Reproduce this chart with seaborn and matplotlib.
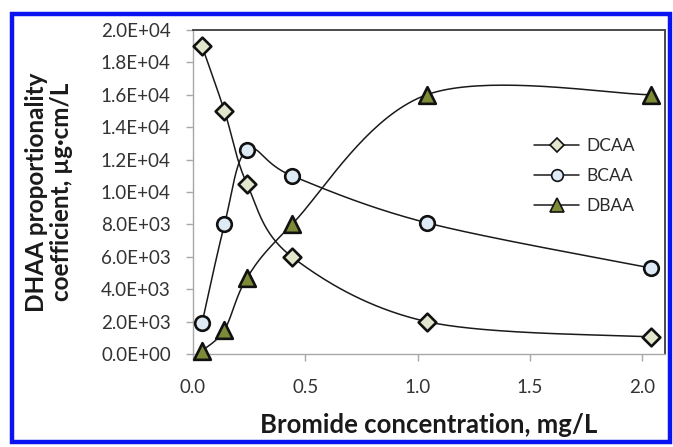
import numpy as np
import pandas as pd
import matplotlib
matplotlib.use("Agg")
import matplotlib.pyplot as plt
import seaborn as sns
from matplotlib.lines import Line2D
from matplotlib.patches import Rectangle

# ---- data ----
bromide = [0.04, 0.14, 0.24, 0.44, 1.04, 2.04]
dcaa = [19000, 15000, 10500, 6000, 2000, 1050]
bcaa = [1900, 8000, 12600, 11000, 8100, 5300]
dbaa = [200, 1500, 4700, 8000, 16000, 16000]
series_names = ["DCAA", "BCAA", "DBAA"]
y_ticks = [0, 2000, 4000, 6000, 8000, 10000, 12000, 14000, 16000, 18000, 20000]
x_ticks = [0.0, 0.5, 1.0, 1.5, 2.0]

sns.set_theme(style="white")
plt.rcParams['font.family'] = ['Lato', 'DejaVu Sans']


def smooth(x, y, n=40):
    """Excel-like smoothed line (Catmull-Rom Bezier) through the data points."""
    x = np.asarray(x, float)
    y = np.asarray(y, float)
    P = np.column_stack([x, y])
    out = []
    t = np.linspace(0, 1, n)
    for i in range(len(P) - 1):
        p0 = P[i - 1] if i > 0 else P[i]
        p1 = P[i]
        p2 = P[i + 1]
        p3 = P[i + 2] if i + 2 < len(P) else P[i + 1]
        b1 = p1 + (p2 - p0) / 6.0
        b2 = p2 - (p3 - p1) / 6.0
        seg = ((1 - t) ** 3)[:, None] * p1 + (3 * (1 - t) ** 2 * t)[:, None] * b1 \
            + (3 * (1 - t) * t ** 2)[:, None] * b2 + (t ** 3)[:, None] * p2
        out.append(seg if i == 0 else seg[1:])
    s = np.vstack(out)
    return s[:, 0], s[:, 1]


fig = plt.figure(figsize=(6.73, 4.47), dpi=100)
ax = fig.add_axes([0.2868, 0.208, 0.7012, 0.725])

styles = {
    "DCAA": dict(marker="D", fc="#e2e6cc", ms=9),
    "BCAA": dict(marker="o", fc="#deeaf6", ms=10.5),
    "DBAA": dict(marker="^", fc="#7d8a38", ms=12),
}
values = {"DCAA": dcaa, "BCAA": bcaa, "DBAA": dbaa}

for name in series_names:
    sx, sy = smooth(bromide, values[name])
    df_line = pd.DataFrame({"x": sx, "y": sy})
    sns.lineplot(data=df_line, x="x", y="y", ax=ax, color="#1a1a1a", lw=1.1,
                 sort=False, estimator=None, zorder=2)

for name in series_names:
    st = styles[name]
    df_pts = pd.DataFrame({"x": bromide, "y": values[name]})
    sns.scatterplot(data=df_pts, x="x", y="y", ax=ax, marker=st["marker"],
                    s=st["ms"] ** 2, color=st["fc"], edgecolor="#111111",
                    linewidth=1.9, zorder=3, clip_on=False)

ax.set_xlim(0, 2.10)
ax.set_ylim(0, 20000)
ax.set_xticks(x_ticks)
ax.set_yticks(y_ticks)
ax.set_xticklabels([f"{v:.1f}" for v in x_ticks])
ax.set_yticklabels([f"{v:.1E}" for v in y_ticks])
ax.tick_params(axis="both", which="major", labelsize=13.5, colors="#333333",
               length=5, width=1, direction="out")
ax.tick_params(axis="x", pad=13, color="#a8a8a8")
ax.tick_params(axis="y", pad=11, color="#a8a8a8")
ax.xaxis.set_ticks_position("bottom")
ax.yaxis.set_ticks_position("left")

for side in ["left", "bottom"]:
    ax.spines[side].set_color("#a8a8a8")
    ax.spines[side].set_linewidth(1.0)
for side in ["top", "right"]:
    ax.spines[side].set_color("#4a4a4a")
    ax.spines[side].set_linewidth(1.4)

ax.set_xlabel("Bromide concentration, mg/L", fontsize=18.5, fontweight="bold",
              color="#1a1a1a", labelpad=12)
ax.set_ylabel("DHAA proportionality\ncoefficient, µg·cm/L", fontsize=17.5,
              fontweight="bold", color="#1a1a1a", labelpad=20, linespacing=1.1)

handles = [Line2D([0], [0], color="#1a1a1a", lw=1.1, marker=styles[n]["marker"],
                  markerfacecolor=styles[n]["fc"], markeredgecolor="#111111",
                  markeredgewidth=1.2, markersize=styles[n]["ms"] * 0.8)
           for n in series_names]
leg = ax.legend(handles, series_names, loc="upper left",
                bbox_to_anchor=(0.69, 0.715), frameon=False, fontsize=12.5,
                handlelength=2.6, labelspacing=0.8, handletextpad=0.4)
for t in leg.get_texts():
    t.set_color("#2a2a2a")

# blue frame around the figure
fig.patches.append(Rectangle((12 / 673, 1 - 442 / 447), 658 / 673, 428 / 447,
                             transform=fig.transFigure, fill=False,
                             edgecolor="#0a14f0", lw=3.2, zorder=10))

fig.savefig("out.png", dpi=100)
